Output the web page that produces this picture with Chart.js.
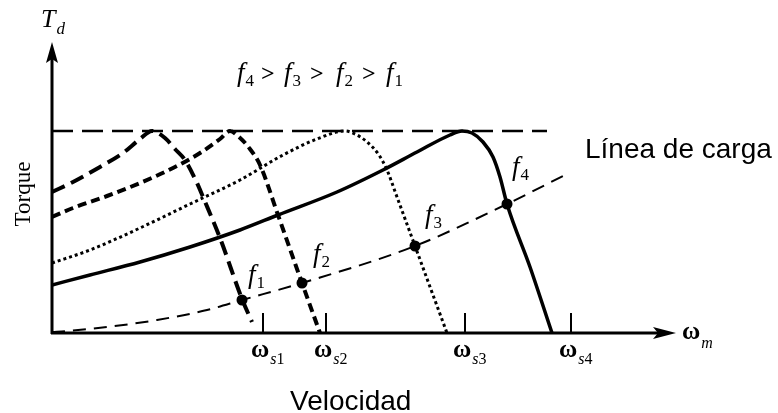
<!DOCTYPE html>
<html>
<head>
<meta charset="utf-8">
<script src="https://cdn.jsdelivr.net/npm/chart.js@4"></script>
<style>
  body { margin: 0; background: #fff; }
  #wrap { width: 778px; height: 413px; }
</style>
</head>
<body>
<div id="wrap"><canvas id="torqueChart" width="778" height="413"></canvas></div>
<script>
// torque-speed curves for four supply frequencies (arbitrary units)
const curveF1 = [[0,141],[21,151],[48,166],[71,180],[88,194],[100,202],[113,195],[123,184],[133,173],[145,150],[151,136],[168,95],[190,34],[200,11]];
const curveF2 = [[0,116],[21,125],[55,137],[88,150],[121,165],[148,180],[168,194],[178,202],[186,197],[198,184],[208,168],[226,118],[250,50],[268,0]];
const curveF3 = [[0,70],[38,83],[88,105],[138,129],[188,153],[231,178],[265,194],[293,202],[305,198],[315,191],[327,178],[335,163],[345,136],[363,87],[381,38],[395,0]];
const curveF4 = [[0,48],[38,58],[88,71],[138,86],[188,103],[226,118],[285,141],[331,163],[365,181],[398,198],[410,202],[420,200],[431,191],[441,176],[448,156],[455,129],[478,66],[500,0]];

// load line and operating points
const loadLine = [[0,1],[15,2],[55,6],[105,13],[155,23],[190,33],[250,50],[363,87],[455,129],[513,158]];
const opSpeed = [190, 250, 363, 455];
const opTorque = [33, 50, 87, 129];

// max torque level
const maxTorque = 202;
const maxTorqueEnd = 495;

// synchronous speeds
const syncSpeeds = [211, 274, 413, 519];
const syncLabels = ["1", "2", "3", "4"];

const toPts = arr => arr.map(p => ({ x: p[0], y: p[1] }));

const SERIF = '"Liberation Serif", "DejaVu Serif", serif';
const SANS = '"Liberation Sans", Arial, sans-serif';

function subText(ctx, x, y, main, sub, mainFont, subFont, dy) {
  ctx.font = mainFont;
  ctx.fillText(main, x, y);
  const w = ctx.measureText(main).width;
  ctx.font = subFont;
  ctx.fillText(sub, x + w + 1, y + dy);
  return x + w + 1 + ctx.measureText(sub).width;
}

const decorations = {
  id: "decorations",
  beforeDraw(chart) {
    const ctx = chart.ctx;
    ctx.save();
    ctx.fillStyle = "#fff";
    ctx.fillRect(0, 0, chart.width, chart.height);
    ctx.restore();
  },
  afterDraw(chart) {
    const ctx = chart.ctx;
    const xs = chart.scales.x, ys = chart.scales.y;
    const x0 = xs.getPixelForValue(0), y0 = ys.getPixelForValue(0);
    const top = chart.chartArea.top, right = chart.chartArea.right;
    ctx.save();
    ctx.strokeStyle = "#000";
    ctx.fillStyle = "#000";
    ctx.lineWidth = 3;
    ctx.setLineDash([]);

    // axes with arrow heads
    ctx.beginPath();
    ctx.moveTo(x0, y0 + 1);
    ctx.lineTo(x0, top + 10);
    ctx.moveTo(x0 - 1, y0);
    ctx.lineTo(right - 10, y0);
    ctx.stroke();
    ctx.beginPath();
    ctx.moveTo(x0, top);
    ctx.lineTo(x0 - 6, top + 21);
    ctx.lineTo(x0, top + 17);
    ctx.lineTo(x0 + 6, top + 21);
    ctx.closePath();
    ctx.fill();
    ctx.beginPath();
    ctx.moveTo(right, y0);
    ctx.lineTo(right - 23, y0 - 6);
    ctx.lineTo(right - 18, y0);
    ctx.lineTo(right - 23, y0 + 6);
    ctx.closePath();
    ctx.fill();

    // synchronous speed ticks and labels
    ctx.lineWidth = 2;
    ctx.textBaseline = "alphabetic";
    syncSpeeds.forEach((v, i) => {
      const px = xs.getPixelForValue(v);
      ctx.beginPath();
      ctx.moveTo(px, y0);
      ctx.lineTo(px, ys.getPixelForValue(20));
      ctx.stroke();
      let lx = subText(ctx, px - 12, y0 + 24, "ω", "s", "bold 25px " + SERIF, "italic 16px " + SERIF, 7);
      ctx.font = "16px " + SERIF;
      ctx.fillText(syncLabels[i], lx, y0 + 31);
    });

    // axis names
    subText(ctx, right + 6, y0 + 6, "ω", "m", "bold 25px " + SERIF, "italic 16px " + SERIF, 9);
    subText(ctx, 41, 27, "T", "d", "italic 26px " + SERIF, "italic 17px " + SERIF, 7);

    ctx.save();
    ctx.translate(30, 194);
    ctx.rotate(-Math.PI / 2);
    ctx.font = "23px " + SERIF;
    ctx.textAlign = "center";
    ctx.fillText("Torque", 0, 0);
    ctx.restore();

    ctx.font = "28px " + SANS;
    ctx.fillText("Velocidad", 290, 410);
    ctx.fillText("Línea de carga", 585, 158);

    // frequency ordering
    const fMain = "italic 27px " + SERIF, fSub = "17px " + SERIF;
    const fLeft = [237, 284, 336, 386];
    const gtLeft = [261, 310, 362];
    ["4", "3", "2", "1"].forEach((n, i) => {
      subText(ctx, fLeft[i], 81, "f", n, fMain, fSub, 5);
      if (i < 3) {
        ctx.font = "bold 24px " + SERIF;
        ctx.fillText(">", gtLeft[i], 81);
      }
    });

    // curve tags
    const tagMain = "italic 27px " + SERIF, tagSub = "17px " + SERIF;
    subText(ctx, 248, 283, "f", "1", tagMain, tagSub, 5);
    subText(ctx, 313, 262, "f", "2", tagMain, tagSub, 5);
    subText(ctx, 425, 223, "f", "3", tagMain, tagSub, 5);
    subText(ctx, 512, 175, "f", "4", tagMain, tagSub, 5);
    ctx.restore();
  }
};

const lineSet = (label, data, width, dash) => ({
  label: label,
  data: toPts(data),
  showLine: true,
  borderColor: "#000",
  borderWidth: width,
  borderDash: dash,
  pointRadius: 0,
  cubicInterpolationMode: "monotone",
  fill: false
});

new Chart(document.getElementById("torqueChart").getContext("2d"), {
  type: "scatter",
  data: {
    datasets: [
      {
        label: "operating points",
        data: opSpeed.map((v, i) => ({ x: v, y: opTorque[i] })),
        showLine: false,
        pointRadius: 5.5,
        pointBackgroundColor: "#000",
        pointBorderWidth: 0
      },
      lineSet("f4", curveF4, 3.5, []),
      lineSet("f3", curveF3, 3, [3, 3]),
      lineSet("f2", curveF2, 4, [9, 5]),
      lineSet("f1", curveF1, 4, [14, 7]),
      lineSet("load", loadLine, 2, [13, 8]),
      lineSet("max", [[0, maxTorque], [maxTorqueEnd, maxTorque]], 2.5, [21, 9])
    ]
  },
  options: {
    responsive: false,
    animation: false,
    devicePixelRatio: 1,
    layout: { padding: { left: 52, right: 102, top: 42, bottom: 80 } },
    plugins: {
      legend: { display: false },
      tooltip: { enabled: false }
    },
    scales: {
      x: { type: "linear", min: 0, max: 624, display: false },
      y: { type: "linear", min: 0, max: 291, display: false }
    }
  },
  plugins: [decorations]
});
</script>
</body>
</html>
